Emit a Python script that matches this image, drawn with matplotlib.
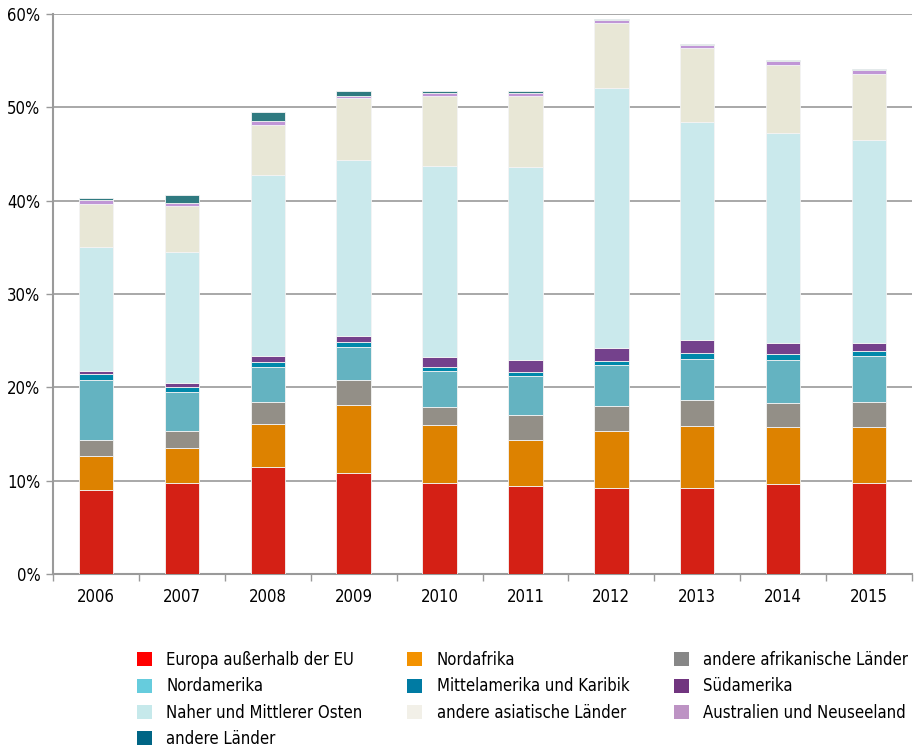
import numpy as np
import matplotlib.pyplot as plt
from matplotlib import font_manager
from matplotlib.patches import Patch

# pick a narrow face if the system has one
fonts = font_manager.fontManager.ttflist
names = {f.name for f in fonts}
if 'Liberation Sans Narrow' in names:
    plt.rcParams['font.family'] = ['Liberation Sans Narrow', 'DejaVu Sans']
    base_size = 13
elif any(f.name == 'DejaVu Sans' and f.stretch == 'condensed' for f in fonts):
    plt.rcParams['font.family'] = ['DejaVu Sans']
    plt.rcParams['font.stretch'] = 'condensed'
    base_size = 12
else:
    plt.rcParams['font.family'] = ['DejaVu Sans']
    base_size = 11

years = ['2006', '2007', '2008', '2009', '2010', '2011', '2012', '2013', '2014', '2015']

regions = [
    'Europa außerhalb der EU', 'Nordafrika', 'andere afrikanische Länder',
    'Nordamerika', 'Mittelamerika und Karibik', 'Südamerika',
    'Naher und Mittlerer Osten', 'andere asiatische Länder', 'Australien und Neuseeland',
    'andere Länder',
]

# shares in percent, stacked bottom to top
europa = [9.0, 9.7, 11.5, 10.8, 9.75, 9.4, 9.2, 9.25, 9.6, 9.8]
nordafrika = [3.65, 3.8, 4.55, 7.3, 6.2, 4.95, 6.15, 6.65, 6.2, 5.9]
afrika_andere = [1.7, 1.85, 2.4, 2.65, 1.95, 2.7, 2.6, 2.75, 2.55, 2.7]
nordamerika = [6.45, 4.2, 3.7, 3.55, 3.8, 4.15, 4.4, 4.4, 4.6, 4.95]
mittelamerika = [0.65, 0.5, 0.55, 0.55, 0.5, 0.45, 0.45, 0.6, 0.6, 0.55]
suedamerika = [0.35, 0.45, 0.7, 0.65, 1.05, 1.3, 1.45, 1.4, 1.15, 0.9]
nahost = [13.2, 14.05, 19.3, 18.85, 20.45, 20.7, 27.85, 23.4, 22.5, 21.65]
asien_andere = [4.65, 4.9, 5.45, 6.6, 7.55, 7.55, 6.95, 7.95, 7.35, 7.15]
australien = [0.4, 0.35, 0.35, 0.3, 0.3, 0.3, 0.35, 0.3, 0.4, 0.4]
andere = [0.25, 0.85, 1.0, 0.55, 0.15, 0.2, 0.1, 0.12, 0.12, 0.15]

series = [europa, nordafrika, afrika_andere, nordamerika, mittelamerika,
          suedamerika, nahost, asien_andere, australien, andere]

bar_colors = ['#d42015', '#dd8200', '#938f87', '#64b3c1', '#0088aa',
              '#74418c', '#cae9ec', '#e8e7d6', '#c096d6', '#2f7a80']
legend_colors = ['#ff0000', '#f39200', '#878787', '#66ccdd', '#007ba3',
                 '#71357f', '#c6e9eb', '#f2f0e8', '#bd93c4', '#006585']

fig = plt.figure(figsize=(9.19, 7.49), dpi=100)
ax = fig.add_axes([53 / 919, 1 - 574 / 749, 859 / 919, 560 / 749])

x = np.arange(len(years))
bottom = np.zeros(len(years))
for vals, col in zip(series, bar_colors):
    ax.bar(x, vals, 0.4, bottom=bottom, color=col, edgecolor='#f4f4f4',
           linewidth=0.6, zorder=3)
    bottom += np.array(vals)

ax.set_xlim(-0.5, len(years) - 0.5)
ax.set_ylim(0, 60)
ax.set_yticks(np.arange(0, 61, 10))
ax.set_yticklabels([f'{v}%' for v in range(0, 61, 10)])
ax.set_xticks(x)
ax.set_xticklabels(years)
ax.set_xticks(np.arange(-0.5, len(years), 1), minor=True)
ax.tick_params(axis='x', which='major', length=0, pad=10, labelsize=base_size)
ax.tick_params(axis='x', which='minor', length=5, color='#999999', width=1)
ax.tick_params(axis='y', length=5, color='#999999', width=1, labelsize=base_size, pad=4)

ax.grid(axis='y', color='#9a9a9a', linewidth=1.2, zorder=0)
for s in ['top', 'right']:
    ax.spines[s].set_visible(False)
for s in ['left', 'bottom']:
    ax.spines[s].set_color('#9a9a9a')
    ax.spines[s].set_linewidth(1.5)

handles = [Patch(facecolor=c, edgecolor='none') for c in legend_colors]
order = [0, 3, 6, 9, 1, 4, 7, 2, 5, 8]
fig.legend([handles[i] for i in order], [regions[i] for i in order],
           loc='upper left', bbox_to_anchor=(137 / 919, 1 - 651 / 749),
           ncol=3, frameon=False, fontsize=base_size, handlelength=0.9,
           handleheight=0.9, handletextpad=0.85, columnspacing=2.7,
           labelspacing=0.5, borderpad=0, borderaxespad=0)

fig.savefig('out.png', dpi=100)
